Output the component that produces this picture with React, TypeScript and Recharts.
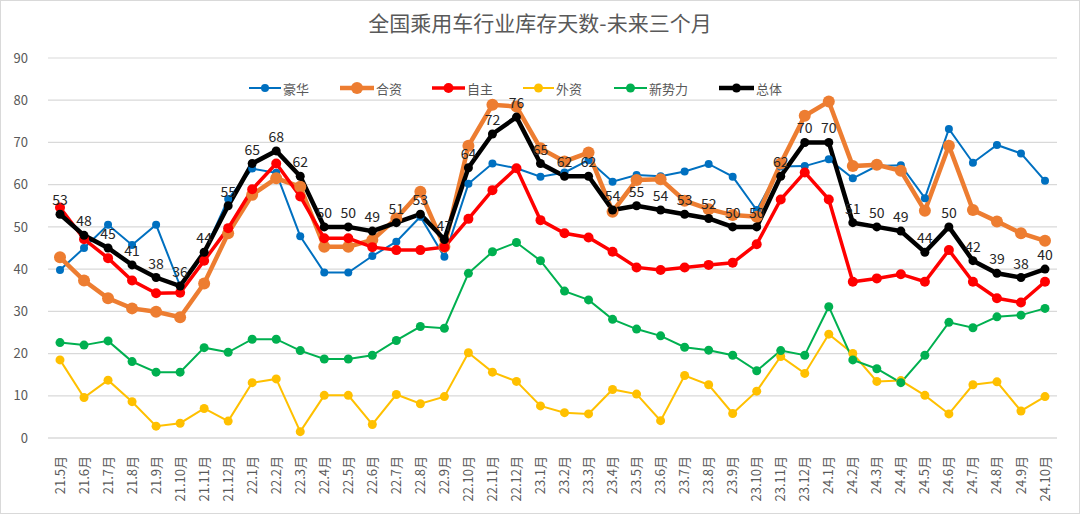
import React from "react";
import { CartesianGrid, LabelList, Line, LineChart, XAxis, YAxis } from "recharts";

const months = [
  "21.5月", "21.6月", "21.7月", "21.8月", "21.9月", "21.10月", "21.11月", "21.12月",
  "22.1月", "22.2月", "22.3月", "22.4月", "22.5月", "22.6月", "22.7月", "22.8月", "22.9月", "22.10月", "22.11月", "22.12月",
  "23.1月", "23.2月", "23.3月", "23.4月", "23.5月", "23.6月", "23.7月", "23.8月", "23.9月", "23.10月", "23.11月", "23.12月",
  "24.1月", "24.2月", "24.3月", "24.4月", "24.5月", "24.6月", "24.7月", "24.8月", "24.9月", "24.10月",
];

// 豪华
const luxury = [
  39.8, 45.0, 50.5, 45.7, 50.5, 36.0, 44.0, 56.6,
  63.8, 62.8, 47.8, 39.2, 39.2, 43.1, 46.5, 52.4, 42.9, 60.2, 65.0, 63.9,
  61.9, 62.9, 65.8, 60.7, 62.3, 62.0, 63.1, 64.9, 61.9, 54.0, 64.3, 64.4,
  66.0, 61.5, 64.4, 64.6, 56.8, 73.2, 65.2, 69.4, 67.4, 60.9,
];
// 合资
const jointVenture = [
  42.8, 37.3, 33.1, 30.7, 29.9, 28.6, 36.6, 48.5,
  57.6, 61.5, 59.5, 45.3, 45.3, 46.9, 52.0, 58.3, 45.3, 69.2, 78.9, 78.5,
  68.6, 65.5, 67.6, 53.6, 61.1, 61.3, 56.2, 54.2, 52.8, 52.4, 65.0, 76.3,
  79.7, 64.4, 64.7, 63.3, 53.8, 69.2, 54.0, 51.3, 48.5, 46.7,
];
// 自主
const domestic = [
  54.6, 47.1, 42.6, 37.3, 34.3, 34.4, 42.0, 49.7,
  58.9, 65.0, 57.2, 47.3, 47.3, 45.2, 44.5, 44.5, 45.2, 51.9, 58.7, 63.9,
  51.6, 48.5, 47.5, 44.1, 40.4, 39.8, 40.4, 41.0, 41.5, 45.9, 56.5, 62.9,
  56.5, 37.0, 37.8, 38.8, 37.0, 44.5, 37.0, 33.1, 32.1, 37.0,
];
// 外资
const foreign = [
  18.5, 9.6, 13.7, 8.6, 2.8, 3.5, 7.0, 4.0,
  13.1, 14.0, 1.5, 10.1, 10.1, 3.2, 10.3, 8.1, 9.8, 20.2, 15.6, 13.4,
  7.6, 6.0, 5.7, 11.5, 10.4, 4.1, 14.8, 12.6, 5.8, 11.1, 19.3, 15.3,
  24.6, 20.0, 13.4, 13.6, 10.1, 5.7, 12.6, 13.3, 6.4, 9.8,
];
// 新势力
const newForces = [
  22.6, 22.0, 23.0, 18.1, 15.6, 15.6, 21.4, 20.3,
  23.4, 23.4, 20.7, 18.7, 18.7, 19.6, 23.1, 26.4, 26.0, 39.0, 44.1, 46.3,
  42.0, 34.8, 32.7, 28.1, 25.8, 24.2, 21.5, 20.8, 19.6, 15.9, 20.7, 19.6,
  31.1, 18.5, 16.4, 13.1, 19.6, 27.4, 26.1, 28.7, 29.1, 30.7,
];
// 总体
const total = [
  53, 48, 45, 41, 38, 36, 44, 55,
  65, 68, 62, 50, 50, 49, 51, 53, 47, 64, 72, 76,
  65, 62, 62, 54, 55, 54, 53, 52, 50, 50, 62, 70,
  70, 51, 50, 49, 44, 50, 42, 39, 38, 40,
];

const yTicks = [0, 10, 20, 30, 40, 50, 60, 70, 80, 90];

const data = months.map((m, i) => ({
  month: m,
  luxury: luxury[i],
  jv: jointVenture[i],
  domestic: domestic[i],
  foreign: foreign[i],
  newForces: newForces[i],
  total: total[i],
}));

const FONT = "'Noto Sans CJK SC', 'Noto Sans', sans-serif";

const SERIES = [
  { key: "luxury", name: "豪华", color: "#0070C0", width: 2, r: 4, left: 249, line: 32 },
  { key: "jv", name: "合资", color: "#ED7D31", width: 4.5, r: 6, left: 340, line: 34 },
  { key: "domestic", name: "自主", color: "#FF0000", width: 3.5, r: 5, left: 432, line: 33 },
  { key: "foreign", name: "外资", color: "#FFC000", width: 2, r: 4.5, left: 523, line: 31 },
  { key: "newForces", name: "新势力", color: "#00B050", width: 2, r: 4.5, left: 614, line: 33 },
  { key: "total", name: "总体", color: "#000000", width: 4.5, r: 4.5, left: 719, line: 35 },
];

const XTick = ({ x, y, payload }: any) => (
  <text
    x={x}
    y={y + 10}
    transform={`rotate(-90, ${x}, ${y + 10})`}
    textAnchor="end"
    dy="0.35em"
    fontSize={13}
    fill="#595959"
    fontFamily={FONT}
  >
    {payload.value}
  </text>
);

export default function App() {
  return (
    <div style={{ position: "absolute", left: 0, top: 0, width: 1080, height: 515, background: "#fff" }}>
      <div
        style={{
          position: "absolute",
          left: 0,
          top: 0,
          width: 1080,
          height: 514,
          boxSizing: "border-box",
          border: "1.5px solid #d9d9d9",
        }}
      />
      <div
        style={{
          position: "absolute",
          left: 0,
          top: 7,
          width: 1080,
          textAlign: "center",
          fontFamily: FONT,
          fontSize: 21,
          color: "#595959",
        }}
      >
        全国乘用车行业库存天数-未来三个月
      </div>
      <LineChart
        width={1080}
        height={515}
        data={data}
        margin={{ top: 58, right: 23, bottom: 0, left: 8 }}
        style={{ position: "absolute", left: 0, top: 0 }}
      >
        <CartesianGrid vertical={false} stroke="#d9d9d9" strokeWidth={1.2} />
        <XAxis
          dataKey="month"
          interval={0}
          height={77}
          padding={{ left: 12, right: 12 }}
          tick={<XTick />}
          tickLine={false}
          axisLine={{ stroke: "#d9d9d9", strokeWidth: 1.2 }}
        />
        <YAxis
          domain={[0, 90]}
          ticks={yTicks}
          width={40}
          axisLine={false}
          tickLine={false}
          tickMargin={14}
          tick={{ fontSize: 13, fill: "#595959", fontFamily: FONT }}
        />
        {SERIES.map((s) => (
          <Line
            key={s.key}
            type="linear"
            dataKey={s.key}
            name={s.name}
            stroke={s.color}
            strokeWidth={s.width}
            dot={{ r: s.r, fill: s.color, stroke: s.color, strokeWidth: 0 }}
            activeDot={false}
            isAnimationActive={false}
          >
            {s.key === "total" ? (
              <LabelList
                dataKey="total"
                position="top"
                offset={9}
                fontSize={14}
                fill="#262626"
                fontFamily={FONT}
                formatter={(v: any) => Math.round(Number(v))}
              />
            ) : null}
          </Line>
        ))}
      </LineChart>
      {SERIES.map((s) => (
        <div
          key={s.key}
          style={{
            position: "absolute",
            left: s.left,
            top: 79,
            height: 18,
            display: "flex",
            alignItems: "center",
            fontFamily: FONT,
            fontSize: 13,
            color: "#595959",
          }}
        >
          <svg width={s.line} height={18} style={{ marginRight: 2 }}>
            <line x1={0} y1={9} x2={s.line} y2={9} stroke={s.color} strokeWidth={s.width} />
            <circle cx={s.line / 2} cy={9} r={s.r} fill={s.color} />
          </svg>
          {s.name}
        </div>
      ))}
    </div>
  );
}
